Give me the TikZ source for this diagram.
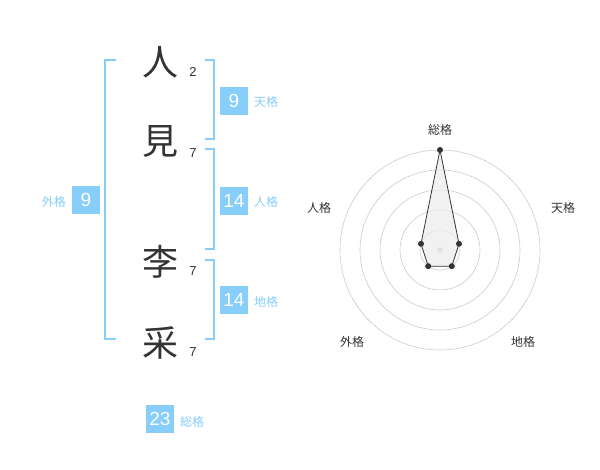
\documentclass[tikz,border=0pt]{standalone}
\usepackage{fontspec}
\usetikzlibrary{calc}
\newfontfamily\cjk{Noto Sans CJK JP}
\newfontfamily\num{Liberation Sans}
\definecolor{sky}{RGB}{135,206,250}
\definecolor{ink}{RGB}{51,51,51}
\definecolor{ring}{RGB}{204,204,204}
\tikzset{
  bracket/.style={draw=sky, line width=1.6pt},
  kanji/.style={text=ink, font=\cjk\fontsize{36}{36}\selectfont, inner sep=0pt},
  strokes/.style={text=ink, font=\num\fontsize{13}{13}\selectfont, inner sep=0pt},
  valbox/.style={fill=sky, text=white, font=\num\fontsize{19}{19}\selectfont, minimum width=28pt, minimum height=28pt, inner sep=0pt},
  kaku/.style={text=sky, font=\cjk\fontsize{12}{12}\selectfont, inner sep=0pt},
  rlabel/.style={text=ink, font=\cjk\fontsize{12}{12}\selectfont, inner sep=0pt},
  dot/.style={circle, fill=ink, minimum size=6pt, inner sep=0pt},
}
\begin{document}
\begin{tikzpicture}[x=1pt,y=-1pt]
\useasboundingbox (0,0) rectangle (600,470);
\fill[white] (0,0) rectangle (600,470);
% kanji
\node[kanji] (k1) at (160,62) {人};
\node[kanji] (k2) at (160,141) {見};
\node[kanji] (k3) at (160,262) {李};
\node[kanji] (k4) at (160,343) {采};
\node[strokes] (s1) at (193,72) {2};
\node[strokes] (s2) at (193,153) {7};
\node[strokes] (s3) at (193,271) {7};
\node[strokes] (s4) at (193,352) {7};
% brackets
\draw[bracket] (116,60) -- (105,60) -- (105,339) -- (116,339);
\draw[bracket] (205,60) -- (214,60) -- (214,139) -- (205,139);
\draw[bracket] (205,149) -- (214,149) -- (214,249) -- (205,249);
\draw[bracket] (205,260) -- (214,260) -- (214,339) -- (205,339);
% value boxes
\node[valbox] (ten) at (234,101) {9};
\node[kaku, anchor=west] (tenl) at (254,102) {天格};
\node[valbox] (jin) at (234,201) {14};
\node[kaku, anchor=west] (jinl) at (254,202) {人格};
\node[valbox] (chi) at (234,300) {14};
\node[kaku, anchor=west] (chil) at (254,302) {地格};
\node[valbox] (gai) at (86,200) {9};
\node[kaku, anchor=east] (gail) at (66,202) {外格};
\node[valbox] (sou) at (160,419) {23};
\node[kaku, anchor=west] (soul) at (180,422) {総格};
% radar
\coordinate (c) at (440,250);
\foreach \r in {20,40,60,80,100} \draw[ring, line width=0.6pt] (c) circle (\r);
\fill[ring] (c) circle (3);
\coordinate (p1) at (440,150);
\coordinate (p2) at ($(c)+(19.0,-6.2)$);
\coordinate (p3) at ($(c)+(11.8,16.2)$);
\coordinate (p4) at ($(c)+(-11.8,16.2)$);
\coordinate (p5) at ($(c)+(-19.0,-6.2)$);
\filldraw[fill=gray!15, fill opacity=0.7, draw=ink, line width=0.8pt] (p1) -- (p2) -- (p3) -- (p4) -- (p5) -- cycle;
\foreach \p in {p1,p2,p3,p4,p5} \node[dot] at (\p) {};
\node[rlabel] (r1) at (440,130) {総格};
\node[rlabel] (r2) at (563,208) {天格};
\node[rlabel] (r3) at (523,342) {地格};
\node[rlabel] (r4) at (352,342) {外格};
\node[rlabel] (r5) at (319,208) {人格};
\end{tikzpicture}
\end{document}
